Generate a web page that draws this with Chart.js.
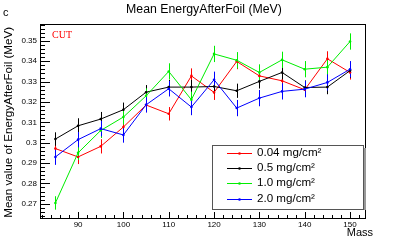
<!DOCTYPE html>
<html>
<head>
<meta charset="utf-8">
<script src="https://cdn.jsdelivr.net/npm/chart.js@4"></script>
<style>
html,body{margin:0;padding:0;background:#fff;}
#wrap{width:407px;height:243px;}
</style>
</head>
<body>
<div id="wrap"><canvas id="c" width="407" height="243"></canvas></div>
<script>
const mass = [85, 90, 95, 100, 105, 110, 115, 120, 125, 130, 135, 140, 145, 150];
const seriesLabels = ["0.04 mg/cm\u00B2", "0.5 mg/cm\u00B2", "1.0 mg/cm\u00B2", "2.0 mg/cm\u00B2"];
const red004 = [0.2971, 0.2930, 0.2982, 0.3077, 0.3185, 0.3142, 0.3328, 0.3247, 0.3399, 0.3328, 0.3304, 0.3260, 0.3412, 0.3345];
const black05 = [0.3018, 0.3083, 0.3116, 0.3162, 0.3248, 0.3273, 0.3273, 0.3276, 0.3255, 0.3301, 0.3345, 0.3271, 0.3273, 0.3354];
const green10 = [0.2704, 0.2950, 0.3060, 0.3126, 0.3230, 0.3350, 0.3211, 0.3436, 0.3405, 0.3345, 0.3407, 0.3361, 0.3371, 0.3497];
const blue20 = [0.2930, 0.3015, 0.3069, 0.3038, 0.3186, 0.3265, 0.3175, 0.3309, 0.3170, 0.3219, 0.3252, 0.3263, 0.3296, 0.3361];
const errRed = [0.0030, 0.0035, 0.0035, 0.0035, 0.0035, 0.0033, 0.0037, 0.0037, 0.0038, 0.0035, 0.0038, 0.0035, 0.0037, 0.0035];
const errBlack = [0.0033, 0.0037, 0.0035, 0.0035, 0.0035, 0.0035, 0.0035, 0.0035, 0.0035, 0.0035, 0.0035, 0.0035, 0.0035, 0.0035];
const errGreen = [0.0033, 0.0035, 0.0037, 0.0037, 0.0037, 0.0040, 0.0040, 0.0040, 0.0040, 0.0040, 0.0040, 0.0040, 0.0040, 0.0040];
const errBlue = [0.0039, 0.0038, 0.0038, 0.0038, 0.0038, 0.0038, 0.0040, 0.0040, 0.0040, 0.0040, 0.0040, 0.0040, 0.0040, 0.0040];
const colors = ["#ff0000", "#000000", "#00ee00", "#0000ff"];
const titleText = "Mean EnergyAfterFoil (MeV)";
const yTitle = "Mean value of EnergyAfterFoil (MeV)";
const xTitle = "Mass";

const values = [red004, black05, green10, blue20];
const errors = [errRed, errBlack, errGreen, errBlue];
const FONT = "'Liberation Sans', Arial, Helvetica, sans-serif";

const datasets = values.map((v, i) => ({
  label: seriesLabels[i],
  data: mass.map((m, j) => ({x: m, y: v[j]})),
  borderColor: colors[i],
  backgroundColor: colors[i],
  borderWidth: 1,
  pointRadius: 1.3,
  pointBorderWidth: 0,
  pointHoverRadius: 1.3,
  tension: 0,
  fill: false,
  order: 4 - i
}));

const rootPlugin = {
  id: 'rootStyle',
  beforeDraw(chart) {
    const ctx = chart.ctx;
    ctx.save();
    ctx.fillStyle = '#fff';
    ctx.fillRect(0, 0, chart.width, chart.height);
    ctx.restore();
  },
  beforeDatasetsDraw(chart) {
    const ctx = chart.ctx;
    const xs = chart.scales.x, ys = chart.scales.y;
    ctx.save();
    ctx.lineWidth = 1;
    values.forEach((v, i) => {
      ctx.strokeStyle = colors[i];
      ctx.beginPath();
      mass.forEach((m, j) => {
        const px = Math.round(xs.getPixelForValue(m)) + 0.5;
        ctx.moveTo(px, ys.getPixelForValue(v[j] - errors[i][j]));
        ctx.lineTo(px, ys.getPixelForValue(v[j] + errors[i][j]));
      });
      ctx.stroke();
    });
    ctx.restore();
  },
  afterDraw(chart) {
    const ctx = chart.ctx;
    const a = chart.chartArea;
    const xs = chart.scales.x, ys = chart.scales.y;
    ctx.save();
    // frame
    ctx.strokeStyle = '#000';
    ctx.lineWidth = 1;
    ctx.strokeRect(Math.round(a.left) + 0.5, Math.round(a.top) + 0.5, Math.round(a.right - a.left), Math.round(a.bottom - a.top));
    // y ticks (inside)
    ctx.beginPath();
    for (let k = 0; ; k++) {
      const v = 0.262 + k * 0.002;
      if (v > ys.max + 1e-9) break;
      if (v < ys.min - 1e-9) continue;
      const major = Math.abs(Math.round(v * 100) - v * 100) < 1e-6;
      const py = Math.round(ys.getPixelForValue(v)) + 0.5;
      ctx.moveTo(a.left, py);
      ctx.lineTo(a.left + (major ? 10 : 5), py);
    }
    // x ticks (inside)
    for (let m = 82; m <= xs.max + 1e-9; m += 2) {
      if (m < xs.min) continue;
      const major = m % 10 === 0;
      const px = Math.round(xs.getPixelForValue(m)) + 0.5;
      ctx.moveTo(px, a.bottom);
      ctx.lineTo(px, a.bottom - (major ? 6 : 3));
    }
    ctx.stroke();
    // texts
    ctx.fillStyle = '#000';
    ctx.font = '12.3px ' + FONT;
    ctx.textAlign = 'center';
    ctx.textBaseline = 'middle';
    ctx.fillText(titleText, 204, 10);
    ctx.font = '11px ' + FONT;
    ctx.textAlign = 'left';
    ctx.fillText('c', 3, 13);
    ctx.textAlign = 'right';
    ctx.fillText(xTitle, 373, 233);
    ctx.save();
    ctx.translate(9, 27);
    ctx.rotate(-Math.PI / 2);
    ctx.font = '11.6px ' + FONT;
    ctx.textAlign = 'right';
    ctx.textBaseline = 'middle';
    ctx.fillText(yTitle, 0, 0);
    ctx.restore();
    ctx.fillStyle = '#ff0000';
    ctx.font = '10px "Liberation Serif", "Times New Roman", serif';
    ctx.textAlign = 'left';
    ctx.fillText('CUT', 52, 35);
    // legend
    const lx = 212, ly = 145, lw = 151, lh = 64;
    ctx.fillStyle = '#fff';
    ctx.fillRect(lx, ly, lw, lh);
    ctx.strokeStyle = '#555';
    ctx.strokeRect(lx + 0.5, ly + 0.5, lw, lh);
    ctx.strokeStyle = '#999';
    ctx.lineWidth = 2;
    ctx.beginPath();
    ctx.moveTo(lx + lw + 2, ly + 3);
    ctx.lineTo(lx + lw + 2, ly + lh + 1);
    ctx.stroke();
    ctx.lineWidth = 1;
    const rows = [153, 168, 183, 199];
    ctx.font = '11.6px ' + FONT;
    ctx.textBaseline = 'middle';
    seriesLabels.forEach((lab, i) => {
      const yy = rows[i] + 0.5;
      ctx.strokeStyle = colors[i];
      ctx.beginPath();
      ctx.moveTo(227, yy);
      ctx.lineTo(252, yy);
      ctx.stroke();
      ctx.fillStyle = colors[i];
      ctx.beginPath();
      ctx.arc(239.5, yy, 1.3, 0, Math.PI * 2);
      ctx.fill();
      ctx.fillStyle = '#000';
      ctx.fillText(lab, 257, rows[i]);
    });
    ctx.restore();
  }
};

new Chart(document.getElementById('c'), {
  type: 'line',
  data: {datasets},
  options: {
    responsive: false,
    animation: false,
    devicePixelRatio: 1,
    layout: {padding: {top: 24, right: 42, left: 0, bottom: 0}},
    plugins: {legend: {display: false}, title: {display: false}, tooltip: {enabled: false}},
    scales: {
      x: {
        type: 'linear',
        min: 81.6,
        max: 153.3,
        grid: {display: false, drawTicks: false},
        border: {display: false},
        ticks: {
          stepSize: 10,
          includeBounds: false,
          padding: 2,
          color: '#000',
          font: {family: FONT, size: 8},
          maxRotation: 0,
          callback: v => String(v)
        },
        afterFit(s) { s.height = 25; }
      },
      y: {
        type: 'linear',
        min: 0.2630,
        max: 0.3583,
        grid: {display: false, drawTicks: false},
        border: {display: false},
        ticks: {
          stepSize: 0.01,
          includeBounds: false,
          padding: 3,
          color: '#000',
          font: {family: FONT, size: 8},
          callback: v => String(Number(v.toFixed(3)))
        },
        afterFit(s) { s.width = 40; }
      }
    }
  },
  plugins: [rootPlugin]
});
</script>
</body>
</html>
